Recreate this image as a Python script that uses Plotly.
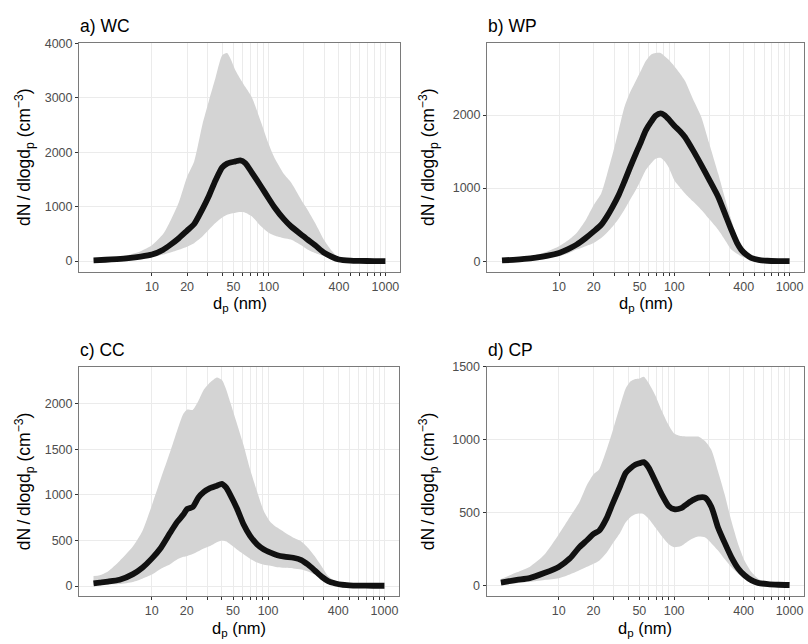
import plotly.graph_objects as go

# ---------------- data ----------------
# a) WC
d_a = [3.16, 4, 5, 6.3, 8, 10, 12.5, 14.4, 17, 20, 23, 27, 30.8, 35, 40, 44, 47, 52, 57, 63, 72, 86, 100, 112, 135, 155, 200, 217, 250, 300, 350, 400, 500, 600, 800, 1000]
med_a = [15, 25, 38, 55, 82, 120, 210, 300, 420, 560, 680, 950, 1200, 1480, 1720, 1790, 1810, 1830, 1850, 1800, 1620, 1370, 1150, 990, 770, 640, 450, 390, 290, 150, 75, 30, 8, 3, 1, 0]
up_a = [30, 45, 70, 110, 180, 290, 500, 740, 1080, 1550, 1830, 2500, 2950, 3360, 3780, 3820, 3720, 3500, 3350, 3200, 3000, 2550, 2150, 1900, 1600, 1450, 1050, 930, 700, 380, 180, 60, 15, 5, 2, 0]
lo_a = [5, 8, 14, 25, 45, 75, 120, 160, 210, 265, 330, 450, 580, 700, 800, 850, 870, 890, 900, 890, 820, 640, 520, 470, 420, 395, 260, 210, 150, 90, 40, 12, 3, 1, 0, 0]

# b) WP
d_b = [3.2, 4, 5, 6.3, 8, 10, 12, 14.2, 17, 20, 23.2, 26, 29.2, 33, 36.8, 41, 46.3, 51, 56.4, 63, 68.8, 76, 82, 89, 100, 112, 124, 145, 172, 200, 240, 275, 312, 350, 380, 420, 464, 550, 640, 800, 1000]
med_b = [9, 18, 30, 48, 75, 113, 165, 226, 315, 407, 498, 610, 747, 910, 1086, 1270, 1470, 1620, 1787, 1910, 1991, 2023, 2000, 1946, 1855, 1780, 1697, 1520, 1312, 1120, 882, 650, 430, 250, 158, 90, 45, 15, 5, 1, 0]
up_b = [20, 35, 55, 85, 135, 204, 285, 385, 560, 769, 928, 1180, 1470, 1800, 2104, 2300, 2466, 2600, 2738, 2830, 2850, 2851, 2810, 2760, 2670, 2570, 2466, 2220, 1968, 1620, 1199, 860, 566, 330, 204, 115, 59, 20, 5, 1, 0]
lo_b = [3, 8, 15, 25, 42, 68, 105, 158, 205, 249, 317, 390, 475, 585, 701, 830, 973, 1100, 1244, 1340, 1403, 1416, 1370, 1290, 1109, 1010, 928, 820, 701, 580, 430, 290, 158, 100, 68, 40, 23, 8, 2, 0, 0]

# c) CC
d_c = [3.16, 3.57, 4.2, 5.3, 6.9, 8.3, 10, 12, 14.4, 16.5, 18.7, 20.2, 22.5, 25.2, 28, 31.7, 36.3, 40, 43.5, 47.3, 54, 61.6, 70, 80.4, 92, 105, 120, 138, 165, 193, 220, 252, 290, 328, 380, 428, 500, 600, 800, 1000]
med_c = [30, 38, 48, 68, 130, 200, 300, 420, 583, 700, 783, 845, 865, 970, 1030, 1072, 1100, 1120, 1080, 1000, 850, 674, 550, 457, 400, 366, 338, 322, 310, 285, 235, 170, 100, 54, 28, 14, 8, 5, 3, 3]
up_c = [109, 118, 160, 275, 435, 600, 880, 1180, 1471, 1700, 1888, 1935, 1930, 2030, 2150, 2230, 2286, 2260, 2160, 2014, 1780, 1543, 1280, 1036, 820, 700, 640, 590, 530, 489, 420, 326, 210, 109, 50, 25, 10, 5, 3, 3]
lo_c = [10, 13, 17, 22, 45, 80, 125, 190, 239, 290, 320, 330, 350, 380, 410, 438, 480, 500, 490, 457, 400, 348, 300, 257, 232, 221, 205, 199, 192, 181, 160, 127, 85, 43, 20, 11, 5, 2, 1, 0]

# d) CP
d_d = [3.16, 4.35, 5.6, 7.5, 10, 12.5, 15.1, 17.6, 20, 22.4, 26, 29.2, 34, 38, 42, 46, 50, 54.6, 60, 68.8, 78, 89.6, 100, 115, 130, 145, 162, 185, 210, 240, 275, 313, 360, 407, 470, 532, 650, 800, 1000]
med_d = [20, 38, 50, 85, 127, 185, 262, 310, 353, 375, 460, 557, 680, 771, 805, 828, 838, 846, 810, 715, 625, 545, 523, 530, 560, 585, 602, 602, 540, 398, 290, 195, 115, 70, 35, 18, 9, 5, 3]
up_d = [45, 90, 127, 210, 350, 470, 570, 690, 761, 795, 930, 1054, 1230, 1350, 1400, 1416, 1420, 1432, 1390, 1303, 1200, 1100, 1043, 1025, 1022, 1022, 1021, 990, 930, 783, 620, 443, 280, 172, 90, 48, 15, 5, 3]
lo_d = [5, 15, 25, 38, 50, 75, 104, 128, 149, 170, 225, 285, 360, 432, 470, 488, 493, 489, 460, 398, 340, 285, 262, 270, 300, 322, 335, 330, 290, 240, 180, 127, 80, 48, 25, 14, 5, 2, 0]

titles = ["a) WC", "b) WP", "c) CC", "d) CP"]
tick_vals = [10, 20, 30, 40, 50, 60, 70, 80, 90, 100, 200, 300, 400, 500, 600, 700, 800, 900, 1000]
tick_text = ["10", "20", "", "", "50", "", "", "", "", "100", "", "", "400", "", "", "", "", "", "1000"]
y_ticks = [[0, 1000, 2000, 3000, 4000], [0, 1000, 2000, 3000],
           [0, 500, 1000, 1500, 2000], [0, 500, 1000, 1500]]
y_ranges = [[-191, 4011], [-142, 2992], [-109, 2405], [-72, 1501]]

# ---------------- layout geometry ----------------
W, H = 808, 644
panels = [
    dict(x0=79, x1=400, y0=37, y1=268, xt=301),
    dict(x0=487, x1=804, y0=37, y1=268, xt=301),
    dict(x0=79, x1=399, y0=364, y1=595.5, xt=629),
    dict(x0=486.5, x1=804, y0=364, y1=595.5, xt=629),
]

series = [(d_a, med_a, up_a, lo_a), (d_b, med_b, up_b, lo_b),
          (d_c, med_c, up_c, lo_c), (d_d, med_d, up_d, lo_d)]

FONT = "Liberation Sans, Arial, sans-serif"
fig = go.Figure()
annotations = []
layout_axes = {}

for i, (p, (dd, med, up, lo)) in enumerate(zip(panels, series)):
    n = i + 1
    xa = "x" if n == 1 else f"x{n}"
    ya = "y" if n == 1 else f"y{n}"
    xkey = "xaxis" if n == 1 else f"xaxis{n}"
    ykey = "yaxis" if n == 1 else f"yaxis{n}"

    fig.add_trace(go.Scatter(x=dd, y=up, mode="lines", line=dict(width=0, shape="spline", smoothing=0.6),
                             xaxis=xa, yaxis=ya, showlegend=False, hoverinfo="skip"))
    fig.add_trace(go.Scatter(x=dd, y=lo, mode="lines", line=dict(width=0, shape="spline", smoothing=0.6),
                             fill="tonexty", fillcolor="#d4d4d4",
                             xaxis=xa, yaxis=ya, showlegend=False, hoverinfo="skip"))
    fig.add_trace(go.Scatter(x=dd, y=med, mode="lines",
                             line=dict(color="#111111", width=5.8, shape="spline", smoothing=0.6),
                             xaxis=xa, yaxis=ya, showlegend=False))

    layout_axes[xkey] = dict(
        type="log", range=[0.375, 3.125],
        domain=[p["x0"] / W, p["x1"] / W], anchor=ya,
        tickvals=tick_vals, ticktext=tick_text,
        ticks="outside", ticklen=3, tickwidth=1, tickcolor="#333333",
        showgrid=True, gridcolor="#ebebeb", gridwidth=1,
        showline=True, linecolor="#7a7a7a", linewidth=1, mirror=True,
        tickfont=dict(family=FONT, size=12.5, color="#4d4d4d"),
        zeroline=False,
    )
    layout_axes[ykey] = dict(
        range=y_ranges[i],
        domain=[1 - p["y1"] / H, 1 - p["y0"] / H], anchor=xa,
        tickvals=y_ticks[i], ticktext=[str(v) for v in y_ticks[i]],
        ticks="outside", ticklen=3, tickwidth=1, tickcolor="#333333",
        showgrid=True, gridcolor="#ebebeb", gridwidth=1,
        showline=True, linecolor="#7a7a7a", linewidth=1, mirror=True,
        tickfont=dict(family=FONT, size=12.5, color="#4d4d4d"),
        zeroline=False,
    )

    # panel title
    annotations.append(dict(text=titles[i], x=p["x0"] / W - 0.001, y=1 - (p["y0"] - 17) / H,
                            xref="paper", yref="paper", xanchor="left", yanchor="middle",
                            showarrow=False, font=dict(family=FONT, size=17.5, color="#000000")))
    # x-axis title
    annotations.append(dict(text="d<sub>p</sub> (nm)", x=((p["x0"] + p["x1"]) / 2) / W,
                            y=1 - p["xt"] / H, xref="paper", yref="paper",
                            xanchor="center", yanchor="middle", showarrow=False,
                            font=dict(family=FONT, size=16.5, color="#000000")))
    # y-axis title
    ytx = 24 if i % 2 == 0 else 428
    annotations.append(dict(text="dN\u2009/\u2009dlogd<sub>p</sub> (cm<sup>\u22123</sup>)", x=ytx / W,
                            y=1 - ((p["y0"] + p["y1"]) / 2) / H, xref="paper", yref="paper",
                            xanchor="center", yanchor="middle", textangle=-90, showarrow=False,
                            font=dict(family=FONT, size=17.5, color="#000000")))

fig.update_layout(
    width=W, height=H, margin=dict(l=0, r=0, t=0, b=0),
    paper_bgcolor="white", plot_bgcolor="white",
    annotations=annotations, showlegend=False,
    **layout_axes,
)

fig.write_html("out.html")
